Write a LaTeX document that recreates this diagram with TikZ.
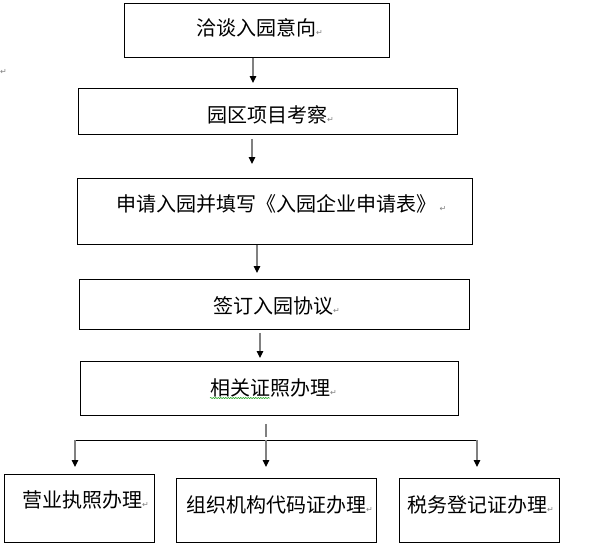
\documentclass[tikz,border=0pt]{standalone}
\usepackage{fontspec}
\setmainfont{Noto Sans CJK SC}
\newfontfamily\marksfont{DejaVu Sans}
\usetikzlibrary{arrows.meta, decorations.pathmorphing}

\newcommand{\parmark}{{\marksfont\fontsize{8}{8}\selectfont\textcolor{gray}{↵}}}

\tikzset{
	stepbox/.style={draw=black, line width=0.9pt, inner sep=0pt, anchor=north west},
	steptext/.style={font=\fontsize{20}{20}\selectfont, inner sep=0pt, anchor=west},
	flow/.style={draw=gray, line width=1.2pt, -{Triangle[length=7pt, width=6.5pt, color=black]}},
}

\begin{document}
\begin{tikzpicture}[x=1pt, y=-1pt]

	\useasboundingbox (0,0) rectangle (601,543);
	\clip (0,0) rectangle (601,543);

	% boxes
	\node[stepbox, minimum width=265, minimum height=54] (b1) at (124,3) {};
	\node[stepbox, minimum width=379, minimum height=46] (b2) at (78,88) {};
	\node[stepbox, minimum width=395, minimum height=66] (b3) at (77,178) {};
	\node[stepbox, minimum width=390, minimum height=50] (b4) at (79,279) {};
	\node[stepbox, minimum width=378, minimum height=54] (b5) at (80,361) {};
	\node[stepbox, minimum width=150, minimum height=68] (b6) at (4,474) {};
	\node[stepbox, minimum width=200, minimum height=64] (b7) at (176,478) {};
	\node[stepbox, minimum width=160, minimum height=64] (b8) at (399,478) {};

	% texts
	\node[steptext] (t1) at (196,28) {洽谈入园意向\parmark};
	\node[steptext] (t2) at (207,115) {园区项目考察\parmark};
	\node[steptext] (t3) at (116,204) {申请入园并填写《入园企业申请表》\,\parmark};
	\node[steptext] (t4) at (213,306) {签订入园协议\parmark};
	\node[steptext] (t5) at (210,388) {相关证照办理\parmark};
	\node[steptext] (t6) at (22,500) {营业执照办理\parmark};
	\node[steptext] (t7) at (186,505) {组织机构代码证办理\parmark};
	\node[steptext] (t8) at (407,505) {税务登记证办理\parmark};
	\node[inner sep=0pt, anchor=west] (pm0) at (0,72) {\parmark};

	\draw[green!60!black, line width=0.5pt, decorate, decoration={snake, amplitude=0.6pt, segment length=2.5pt}]
		([yshift=-10pt]t5.west) -- ++(60,0);

	% arrows
	\coordinate (x1) at (253,0);
	\coordinate (x2) at (252,0);
	\coordinate (x3) at (257,0);
	\coordinate (x4) at (260,0);
	\coordinate (busL) at (75,440);
	\coordinate (busM) at (266,440);
	\coordinate (busR) at (477,440);

	\draw[flow, shorten >=5pt] (b1.south -| x1) -- (b2.north -| x1);
	\draw[flow, shorten <=4pt, shorten >=14pt] (b2.south -| x2) -- (b3.north -| x2);
	\draw[flow, shorten >=6pt] (b3.south -| x3) -- (b4.north -| x3);
	\draw[flow, shorten <=3pt, shorten >=3pt] (b4.south -| x4) -- (b5.north -| x4);

	\draw[gray, line width=1.2pt, shorten <=8pt, shorten >=3pt] (b5.south -| busM) -- (busM);
	\draw[black, line width=0.9pt] (busL) -- (busR);

	\draw[flow, shorten >=7pt] (busL) -- (b6.north -| busL);
	\draw[flow, shorten >=11pt] (busM) -- (b7.north -| busM);
	\draw[flow, shorten >=11pt] (busR) -- (b8.north -| busR);

\end{tikzpicture}
\end{document}
